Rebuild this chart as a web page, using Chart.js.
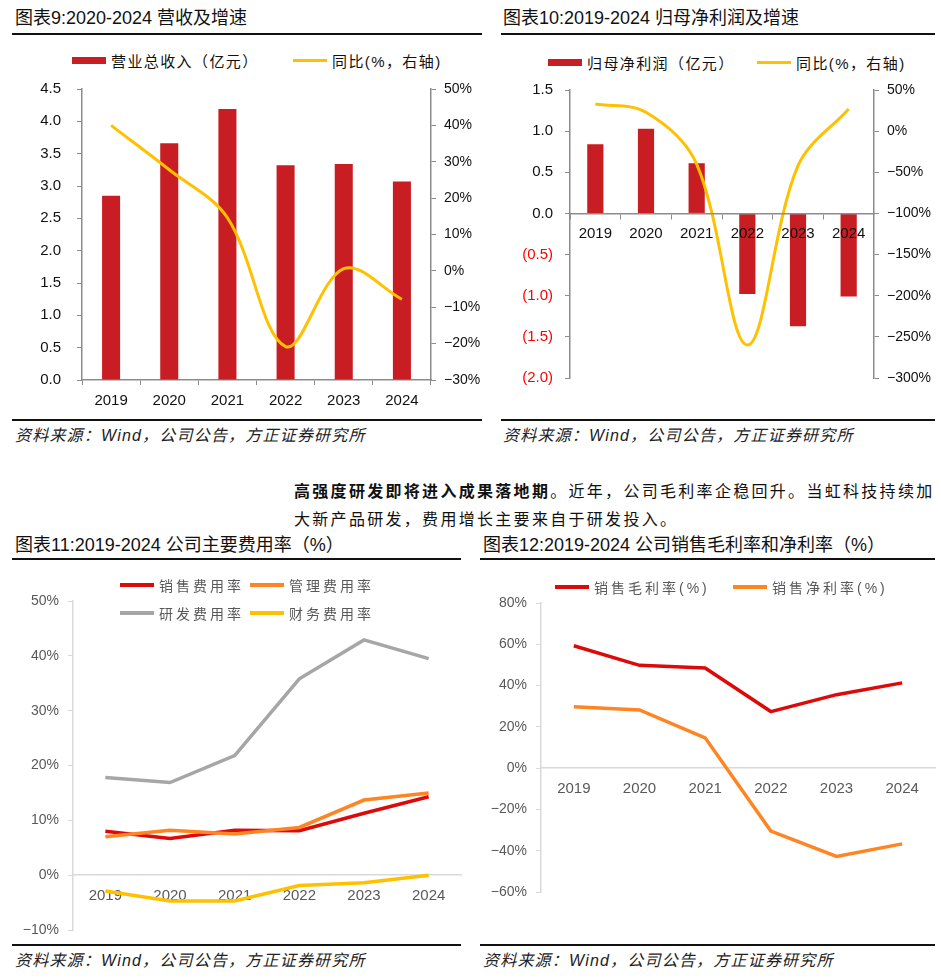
<!DOCTYPE html>
<html>
<head>
<meta charset="utf-8">
<script src="https://cdn.jsdelivr.net/npm/chart.js@4.4.1/dist/chart.umd.min.js"></script>
<style>
  body { margin: 0; background: #fff; width: 941px; height: 978px; position: relative; overflow: hidden;
         font-family: "Liberation Sans", "Noto Sans CJK SC", sans-serif; color: #111; }
  .abs { position: absolute; }
  .title { font-size: 18px; white-space: nowrap; line-height: 22px; }
  .rule { height: 2px; background: #111; }
  .src { font-size: 16px; font-style: italic; letter-spacing: 1.2px; white-space: nowrap; line-height: 20px; color: #222; }
  .para { font-family: "Noto Sans CJK SC", sans-serif; font-size: 16px; letter-spacing: 2.3px; line-height: 28px; white-space: nowrap; }
  .lg { position: absolute; display: flex; align-items: center; white-space: nowrap; height: 20px; }
  .lg .sw { display: inline-block; width: 34px; margin-right: 5px; }
  .lg.dark { font-size: 15px; letter-spacing: 1.4px; color: #111; }
  .lg.grey { font-size: 14px; letter-spacing: 3px; color: #595959; }
  canvas { position: absolute; }
</style>
</head>
<body>

<div class="abs title" style="left:15px;top:7px">图表9:2020-2024 营收及增速</div>
<div class="abs rule" style="left:12px;top:33px;width:470px"></div>
<div class="abs rule" style="left:12px;top:419px;width:470px"></div>
<div class="abs src" style="left:15px;top:426px">资料来源：Wind，公司公告，方正证券研究所</div>

<div class="abs title" style="left:503px;top:7px">图表10:2019-2024 归母净利润及增速</div>
<div class="abs rule" style="left:501px;top:33px;width:434px"></div>
<div class="abs rule" style="left:501px;top:419px;width:434px"></div>
<div class="abs src" style="left:503px;top:426px">资料来源：Wind，公司公告，方正证券研究所</div>

<div class="abs para" style="left:294px;top:476px"><b>高强度研发即将进入成果落地期</b>。近年，公司毛利率企稳回升。当虹科技持续加</div>
<div class="abs para" style="left:294px;top:504px">大新产品研发，费用增长主要来自于研发投入。</div>

<div class="abs title" style="left:15px;top:534px">图表11:2019-2024 公司主要费用率（%）</div>
<div class="abs rule" style="left:12px;top:558px;width:449px"></div>
<div class="abs rule" style="left:12px;top:944px;width:449px"></div>
<div class="abs src" style="left:15px;top:951px">资料来源：Wind，公司公告，方正证券研究所</div>

<div class="abs title" style="left:483px;top:534px">图表12:2019-2024 公司销售毛利率和净利率（%）</div>
<div class="abs rule" style="left:480px;top:558px;width:455px"></div>
<div class="abs rule" style="left:480px;top:944px;width:455px"></div>
<div class="abs src" style="left:483px;top:951px">资料来源：Wind，公司公告，方正证券研究所</div>

<canvas id="c9" width="472" height="340" style="left:12px;top:75px"></canvas>
<canvas id="c10" width="437" height="340" style="left:500px;top:75px"></canvas>
<canvas id="c11" width="458" height="355" style="left:12px;top:585px"></canvas>
<canvas id="c12" width="457" height="353" style="left:480px;top:587px"></canvas>

<script>
const years = ['2019', '2020', '2021', '2022', '2023', '2024'];

// 图表9
const revenue = [2.85, 3.66, 4.19, 3.32, 3.34, 3.07];
const revenueYoy = [40.0, 27.8, 14.6, -20.8, 0.6, -7.8];

// 图表10
const netProfit = [0.84, 1.03, 0.61, -0.98, -1.37, -1.01];
const netProfitYoy = [33, 23, -40, -260, -42, 27];

// 图表11
const sellingRate = [8.0, 6.7, 8.2, 8.1, 11.3, 14.3];
const adminRate = [7.0, 8.2, 7.5, 8.7, 13.7, 15.0];
const rdRate = [17.8, 16.9, 21.8, 35.8, 42.9, 39.5];
const financeRate = [-2.9, -4.7, -4.7, -1.9, -1.4, 0.0];

// 图表12
const grossMargin = [59.3, 49.8, 48.5, 27.4, 35.6, 41.3];
const netMargin = [29.7, 28.2, 14.7, -30.5, -42.8, -36.7];

const RED = '#C81E23';
const YELLOW = '#FFC000';
const AXIS = '#8C8C8C';
const LIGHT = '#D9D9D9';
const GREY_TXT = '#595959';

Chart.defaults.font.family = '"Liberation Sans", "Noto Sans CJK SC", sans-serif';
Chart.defaults.animation = false;
Chart.defaults.responsive = false;
Chart.defaults.plugins.legend.display = false;
Chart.defaults.plugins.tooltip.enabled = false;

const pct = (v) => (v < 0 ? '−' : '') + Math.abs(v) + '%';

function legendItem(x, y, label, color, swH, cls) {
  const d = document.createElement('div');
  d.className = 'lg ' + cls;
  d.style.left = x + 'px';
  d.style.top = (y - 10) + 'px';
  const sw = document.createElement('span');
  sw.className = 'sw';
  sw.style.background = color;
  sw.style.height = swH + 'px';
  d.appendChild(sw);
  d.appendChild(document.createTextNode(label));
  document.body.appendChild(d);
}

// fixed-width y axis; the plot box is set by layout padding only
function sideAxis(opts) {
  return {
    position: opts.position,
    min: opts.min,
    max: opts.max,
    ticks: {
      stepSize: opts.step,
      callback: opts.fmt,
      color: opts.color || '#111',
      font: { size: opts.size || 15 },
      padding: opts.pad,
    },
    grid: { drawOnChartArea: false, tickLength: 5, color: opts.line || AXIS },
    border: { color: opts.line || AXIS, width: 1.5 },
    afterFit: (s) => { s.width = opts.width; s.paddingTop = 0; s.paddingBottom = 0; },
  };
}

// ---------- 图表9 ----------
legendItem(72, 60, '营业总收入（亿元）', RED, 7, 'dark');
legendItem(293, 60, '同比(%，右轴)', YELLOW, 3, 'dark');

new Chart(document.getElementById('c9'), {
  data: {
    labels: years,
    datasets: [
      { type: 'line', label: '同比', data: revenueYoy, yAxisID: 'y1', borderColor: YELLOW,
        borderWidth: 3, pointRadius: 0, tension: 0.35, order: 0 },
      { type: 'bar', label: '营业总收入', data: revenue, yAxisID: 'y', backgroundColor: RED,
        barPercentage: 0.31, categoryPercentage: 1, order: 1 },
    ],
  },
  options: {
    layout: { padding: { top: 14 } },
    scales: {
      x: {
        grid: { drawOnChartArea: false, tickLength: 5, color: AXIS, offset: true },
        border: { color: AXIS, width: 1.5 },
        ticks: { color: '#111', font: { size: 15 }, padding: 7 },
        afterFit: (s) => { s.height = 35; },
      },
      y: sideAxis({ position: 'left', min: 0, max: 4.5, step: 0.5, fmt: (v) => v.toFixed(1), pad: 16, width: 70 }),
      y1: sideAxis({ position: 'right', min: -30, max: 50, step: 10, fmt: pct, size: 14, pad: 8, width: 53 }),
    },
  },
});

// ---------- 图表10 ----------
legendItem(548, 62, '归母净利润（亿元）', RED, 7, 'dark');
legendItem(757, 62, '同比(%，右轴)', YELLOW, 3, 'dark');

const y10 = sideAxis({
  position: 'left', min: -2, max: 1.5, step: 0.5, pad: 12, width: 70,
  fmt: (v) => (v < 0 ? '(' + Math.abs(v).toFixed(1) + ')' : v.toFixed(1)),
});
y10.ticks.color = (c) => (c.tick.value < 0 ? '#FF0000' : '#111');

new Chart(document.getElementById('c10'), {
  data: {
    labels: years,
    datasets: [
      { type: 'line', label: '同比', data: netProfitYoy, yAxisID: 'y1', borderColor: YELLOW,
        borderWidth: 3, pointRadius: 0, tension: 0.35, order: 0 },
      { type: 'bar', label: '归母净利润', data: netProfit, yAxisID: 'y', backgroundColor: RED,
        barPercentage: 0.32, categoryPercentage: 1, order: 1 },
    ],
  },
  options: {
    layout: { padding: { top: 15, bottom: 37 } },
    scales: {
      x: {
        position: { y: 0 },
        grid: { drawOnChartArea: false, tickLength: 5, color: AXIS, offset: true },
        border: { color: AXIS, width: 1.5, z: 1 },
        ticks: { color: '#111', font: { size: 15 }, padding: 6, z: 1 },
      },
      y: y10,
      y1: sideAxis({ position: 'right', min: -300, max: 50, step: 50, fmt: pct, size: 14, pad: 8, width: 63 }),
    },
  },
});

// ---------- 图表11 ----------
const C_SELL = '#DD0A0A';
const C_ADMIN = '#FF8522';
const C_RD = '#A6A6A6';

legendItem(120, 585, '销售费用率', C_SELL, 4, 'grey');
legendItem(250, 585, '管理费用率', C_ADMIN, 4, 'grey');
legendItem(120, 613, '研发费用率', C_RD, 4, 'grey');
legendItem(250, 613, '财务费用率', YELLOW, 4, 'grey');

const lineDs = (label, data, color) => ({
  label, data, borderColor: color, borderWidth: 3.5, pointRadius: 0, tension: 0,
});

function lineX() {
  return {
    position: { y: 0 },
    offset: true,
    grid: { drawOnChartArea: false, drawTicks: false },
    border: { color: LIGHT, width: 1.5 },
    ticks: { color: GREY_TXT, font: { size: 15 }, padding: 12 },
  };
}

new Chart(document.getElementById('c11'), {
  type: 'line',
  data: {
    labels: years,
    datasets: [
      lineDs('研发费用率', rdRate, C_RD),
      lineDs('财务费用率', financeRate, YELLOW),
      lineDs('管理费用率', adminRate, C_ADMIN),
      lineDs('销售费用率', sellingRate, C_SELL),
    ],
  },
  options: {
    layout: { padding: { top: 16, right: 9, bottom: 10 } },
    scales: {
      x: lineX(),
      y: sideAxis({ position: 'left', min: -10, max: 50, step: 10, fmt: pct, size: 14, pad: 9, width: 61,
                    color: GREY_TXT, line: LIGHT }),
    },
  },
});

// ---------- 图表12 ----------
legendItem(555, 587, '销售毛利率(%)', C_SELL, 4, 'grey');
legendItem(733, 587, '销售净利率(%)', C_ADMIN, 4, 'grey');

new Chart(document.getElementById('c12'), {
  type: 'line',
  data: {
    labels: years,
    datasets: [
      lineDs('销售净利率(%)', netMargin, C_ADMIN),
      lineDs('销售毛利率(%)', grossMargin, C_SELL),
    ],
  },
  options: {
    layout: { padding: { top: 16, right: 2, bottom: 48 } },
    scales: {
      x: lineX(),
      y: sideAxis({ position: 'left', min: -60, max: 80, step: 20, fmt: pct, size: 14, pad: 9, width: 61,
                    color: GREY_TXT, line: LIGHT }),
    },
  },
});
</script>
</body>
</html>
